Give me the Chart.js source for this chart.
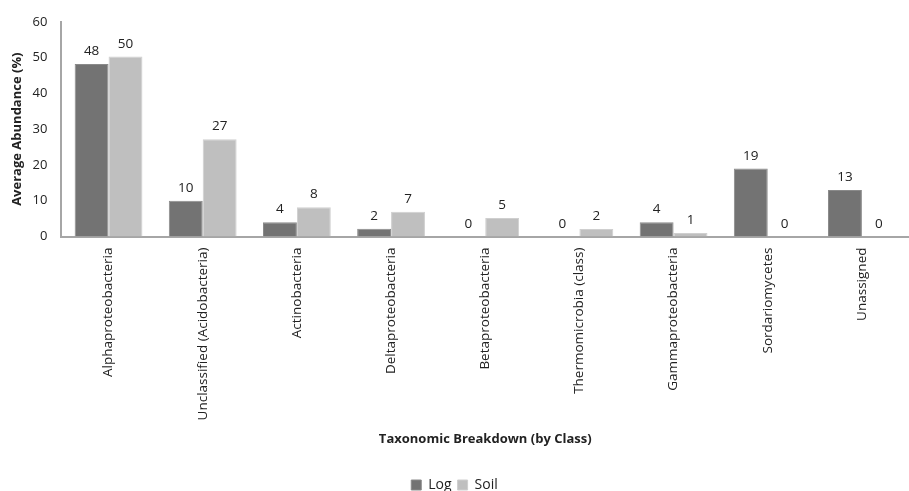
<!DOCTYPE html>
<html>
<head>
<meta charset="utf-8">
<script src="https://cdn.jsdelivr.net/npm/chart.js@4.4.1/dist/chart.umd.min.js"></script>
<style>
  html, body { margin: 0; padding: 0; background: #ffffff; }
  #wrap { width: 909px; height: 491px; }
</style>
</head>
<body>
<div id="wrap"><canvas id="grafico" width="909" height="491"></canvas></div>
<script>
// Categorias (clases taxonomicas)
const categories = ['Alphaproteobacteria', 'Unclassified (Acidobacteria)', 'Actinobacteria', 'Deltaproteobacteria',
  'Betaproteobacteria', 'Thermomicrobia (class)', 'Gammaproteobacteria', 'Sordariomycetes', 'Unassigned'];
// Abundancia media (%)
const logValues = [48.2, 10.0, 4.0, 2.2, 0, 0, 4.0, 19.0, 13.0];
const soilValues = [50.3, 27.2, 8.2, 6.9, 5.2, 2.1, 1.0, 0, 0];
const yTicks = [0, 10, 20, 30, 40, 50, 60];

const fuente = "'Open Sans', 'Noto Sans', sans-serif";

// Etiquetas de valor encima de cada barra
const etiquetasPlugin = {
  id: 'etiquetas',
  afterDatasetsDraw(chart) {
    const ctx = chart.ctx;
    ctx.save();
    ctx.font = '13.5px ' + fuente;
    ctx.fillStyle = '#222222';
    ctx.textAlign = 'center';
    ctx.textBaseline = 'bottom';
    chart.data.datasets.forEach((ds, i) => {
      chart.getDatasetMeta(i).data.forEach((bar, j) => {
        ctx.fillText(Math.round(ds.data[j]).toString(), bar.x, bar.y - 6);
      });
    });
    ctx.restore();
  }
};

const chart = new Chart(document.getElementById('grafico'), {
  type: 'bar',
  data: {
    labels: categories,
    datasets: [
      { label: 'Log', data: logValues, backgroundColor: '#737373', borderColor: '#8a8a8a', borderWidth: 1,
        barPercentage: 1.0, categoryPercentage: 0.72 },
      { label: 'Soil', data: soilValues, backgroundColor: '#bfbfbf', borderColor: '#cfcfcf', borderWidth: 1,
        barPercentage: 1.0, categoryPercentage: 0.72 }
    ]
  },
  options: {
    responsive: false,
    maintainAspectRatio: false,
    animation: false,
    layout: { padding: { top: 11, right: 0, left: 0, bottom: -11 } },
    plugins: {
      legend: {
        position: 'bottom',
        labels: { boxWidth: 10, boxHeight: 10, padding: 6, color: '#222222', font: { family: fuente, size: 14 } }
      },
      tooltip: { enabled: false }
    },
    scales: {
      x: {
        grid: { display: false, drawTicks: false },
        border: { color: '#a6a6a6', width: 2 },
        ticks: { minRotation: 90, maxRotation: 90, padding: 11, color: '#222222', font: { family: fuente, size: 13.5 } },
        title: { display: true, text: 'Taxonomic Breakdown (by Class)', color: '#222222',
          font: { family: fuente, size: 13, weight: 'bold' }, padding: { top: 0, bottom: 25 } }
      },
      y: {
        min: 0, max: 60,
        afterBuildTicks: (axis) => { axis.ticks = yTicks.map(v => ({ value: v })); },
        grid: { display: false, drawTicks: false },
        border: { color: '#a6a6a6', width: 2 },
        ticks: { padding: 14, color: '#222222', font: { family: fuente, size: 13 } },
        title: { display: true, text: 'Average Abundance (%)', color: '#222222',
          font: { family: fuente, size: 13, weight: 'bold' }, padding: { top: 9, bottom: -6 } }
      }
    }
  },
  plugins: [etiquetasPlugin]
});
</script>
</body>
</html>
